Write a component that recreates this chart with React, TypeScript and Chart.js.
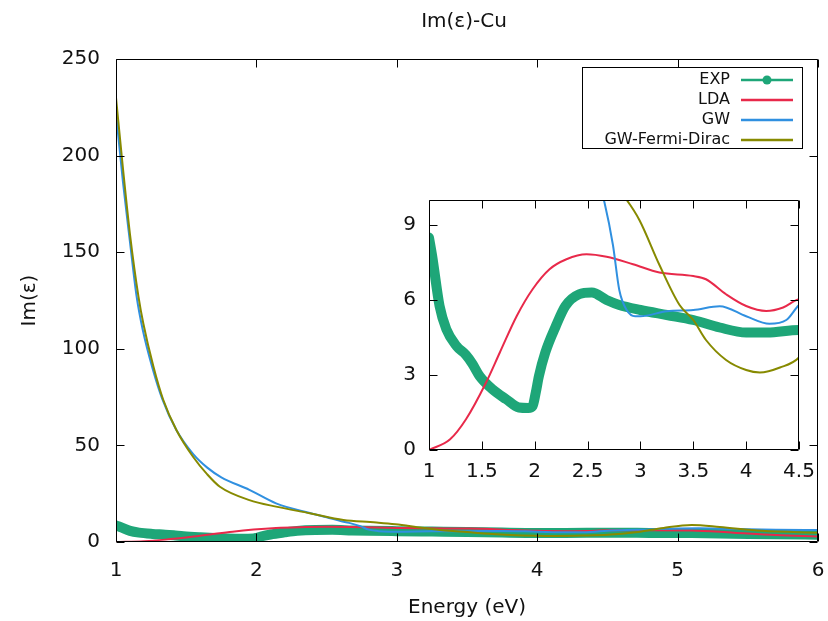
import React, { useEffect, useRef } from "react";
import { Chart, registerables } from "chart.js";

Chart.register(...registerables);

const FONT = "'DejaVu Sans', 'Open Sans', sans-serif";
const TEXT = "#111111";

// ---------- data ----------
const SERIES_NAMES = ["EXP", "LDA", "GW", "GW-Fermi-Dirac"];
const CHART_TITLE = "Im(ε)-Cu";
const X_TITLE = "Energy (eV)";
const Y_TITLE = "Im(ε)";

const EXP_X = [1.0, 1.03, 1.1, 1.164, 1.26, 1.35, 1.41, 1.48, 1.6, 1.73, 1.85, 1.94, 1.98, 2.01, 2.04, 2.1, 2.2, 2.29, 2.42, 2.54, 2.68, 2.8, 3.0, 3.25, 3.5, 3.75, 4.0, 4.2, 4.5, 4.8, 5.1, 5.4, 5.7, 6.0];
const EXP_Y = [8.5, 7.76, 5.76, 4.83, 4.16, 3.8, 3.45, 2.95, 2.43, 2.03, 1.7, 1.68, 1.76, 2.3, 2.96, 3.9, 4.96, 5.76, 6.23, 6.3, 6.0, 5.8, 5.6, 5.4, 5.2, 4.9, 4.7, 4.7, 4.8, 4.7, 4.6, 4.3, 4.0, 3.8];

const LDA_X = [1.0, 1.2, 1.35, 1.54, 1.67, 1.83, 1.98, 2.14, 2.3, 2.49, 2.68, 2.93, 3.18, 3.5, 3.62, 3.81, 4.0, 4.19, 4.35, 4.5, 4.8, 5.1, 5.4, 5.7, 6.0];
const LDA_Y = [0, 0.43, 1.23, 2.7, 3.9, 5.36, 6.43, 7.23, 7.63, 7.83, 7.73, 7.43, 7.1, 6.96, 6.83, 6.23, 5.76, 5.56, 5.7, 6.03, 6.1, 6.0, 4.8, 3.6, 2.9];

const GW_X = [1.0, 1.05, 1.1, 1.147, 1.19, 1.26, 1.33, 1.43, 1.55, 1.65, 1.75, 1.95, 2.14, 2.38, 2.5, 2.6, 2.66, 2.74, 2.8, 2.87, 2.95, 3.0, 3.25, 3.5, 3.75, 4.0, 4.22, 4.38, 4.5, 4.7, 5.0, 5.15, 5.4, 5.7, 6.0];
const GW_Y = [222, 186, 155, 127, 110, 90, 74, 58, 45.5, 38.5, 33.5, 27, 20, 15, 12.8, 10.8, 9.9, 8.2, 6.4, 5.6, 5.35, 5.35, 5.55, 5.6, 5.75, 5.35, 5.05, 5.2, 5.8, 6.3, 7.0, 7.1, 6.7, 6.4, 6.2];

const GWFD_X = [1.0, 1.05, 1.1, 1.16, 1.195, 1.266, 1.337, 1.43, 1.55, 1.65, 1.74, 1.95, 2.14, 2.38, 2.62, 2.81, 2.87, 2.99, 3.18, 3.37, 3.5, 3.62, 3.81, 4.0, 4.13, 4.32, 4.5, 4.7, 4.9, 5.1, 5.3, 5.6, 6.0];
const GWFD_Y = [230, 193, 159, 127, 113, 91, 73.5, 58, 44, 35, 28.6, 21.7, 18.3, 14.9, 11.4, 10.3, 10, 9.2, 7.4, 5.8, 5.2, 4.4, 3.6, 3.2, 3.1, 3.3, 3.7, 5.0, 7.3, 8.8, 7.8, 5.8, 4.8];

const MAIN_X_TICKS = [1, 2, 3, 4, 5, 6];
const MAIN_Y_TICKS = [0, 50, 100, 150, 200, 250];
const INSET_X_TICKS = [1, 1.5, 2, 2.5, 3, 3.5, 4, 4.5];
const INSET_Y_TICKS = [0, 3, 6, 9];

// ---------- styles ----------
const COLORS = ["#1ea678", "#e8294a", "#3090e0", "#878a00"];

const pts = (xs: number[], ys: number[]) => xs.map((x, i) => ({ x, y: ys[i] }));

const makeDatasets = (expWidth: number) => {
  const series = [
    [EXP_X, EXP_Y],
    [LDA_X, LDA_Y],
    [GW_X, GW_Y],
    [GWFD_X, GWFD_Y],
  ];
  return series.map(([xs, ys], i) => ({
    label: SERIES_NAMES[i],
    data: pts(xs, ys),
    borderColor: COLORS[i],
    backgroundColor: COLORS[i],
    borderWidth: i === 0 ? expWidth : 2,
    pointRadius: 0,
    cubicInterpolationMode: "monotone" as const,
    borderCapStyle: "round" as const,
    borderJoinStyle: "round" as const,
    fill: false,
    order: 3 - i,
  }));
};

const frameTicks = (xt: number[], yt: number[], len: number) => ({
  id: "frameTicks",
  afterDatasetsDraw(chart: any) {
    const { ctx, chartArea: a, scales } = chart;
    const L = Math.round(a.left) + 0.5;
    const R = Math.round(a.right) - 0.5;
    const T = Math.round(a.top) + 0.5;
    const B = Math.round(a.bottom) - 0.5;
    ctx.save();
    ctx.strokeStyle = "#000";
    ctx.lineWidth = 1;
    ctx.beginPath();
    ctx.rect(L, T, R - L, B - T);
    xt.forEach((v) => {
      const px = Math.round(scales.x.getPixelForValue(v)) + 0.5;
      ctx.moveTo(px, B);
      ctx.lineTo(px, B - len);
      ctx.moveTo(px, T);
      ctx.lineTo(px, T + len);
    });
    yt.forEach((v) => {
      const py = Math.round(scales.y.getPixelForValue(v)) + 0.5;
      ctx.moveTo(L, py);
      ctx.lineTo(L + len, py);
      ctx.moveTo(R, py);
      ctx.lineTo(R - len, py);
    });
    ctx.stroke();
    ctx.restore();
  },
});

const titleLegend = {
  id: "titleLegend",
  afterDraw(chart: any) {
    const { ctx, chartArea: a } = chart;
    ctx.save();
    ctx.fillStyle = TEXT;
    ctx.font = `20px ${FONT}`;
    ctx.textAlign = "center";
    ctx.textBaseline = "middle";
    ctx.fillText(CHART_TITLE, (a.left + a.right) / 2 - 3, 22);

    // legend box
    const bx = 582, by = 67, bw = 220, bh = 81;
    ctx.fillStyle = "#fff";
    ctx.fillRect(bx, by, bw, bh);
    ctx.strokeStyle = "#000";
    ctx.lineWidth = 1;
    ctx.strokeRect(bx + 0.5, by + 0.5, bw, bh);
    ctx.font = `16px ${FONT}`;
    ctx.textAlign = "right";
    SERIES_NAMES.forEach((name, i) => {
      const y = 80 + 20 * i;
      ctx.fillStyle = TEXT;
      ctx.fillText(name, 730, y);
      ctx.strokeStyle = COLORS[i];
      ctx.lineWidth = 2.5;
      ctx.beginPath();
      ctx.moveTo(741, y);
      ctx.lineTo(793, y);
      ctx.stroke();
      if (i === 0) {
        ctx.fillStyle = COLORS[i];
        ctx.beginPath();
        ctx.arc(767, y, 4.5, 0, Math.PI * 2);
        ctx.fill();
      }
    });
    ctx.restore();
  },
};

const axisOpts = (
  min: number,
  max: number,
  ticks: number[],
  fit: (s: any) => void,
  pad: number,
  title?: { text: string; padding: any }
) => ({
  type: "linear" as const,
  min,
  max,
  afterBuildTicks: (s: any) => {
    s.ticks = ticks.map((v) => ({ value: v }));
  },
  afterFit: (s: any) => {
    fit(s);
    s.paddingLeft = 0;
    s.paddingRight = 0;
    s.paddingTop = 0;
    s.paddingBottom = 0;
  },
  grid: { display: false, drawTicks: false },
  border: { display: false },
  ticks: {
    font: { family: FONT, size: 20 },
    color: TEXT,
    padding: pad,
    maxRotation: 0,
    autoSkip: false,
    callback: (v: any) => String(v),
  },
  title: title
    ? {
        display: true,
        text: title.text,
        font: { family: FONT, size: 20 },
        color: TEXT,
        padding: title.padding,
      }
    : { display: false },
});

export default function App() {
  const mainRef = useRef<HTMLCanvasElement>(null);
  const insetRef = useRef<HTMLCanvasElement>(null);

  useEffect(() => {
    const main = new Chart(mainRef.current!, {
      type: "line",
      data: { datasets: makeDatasets(10) as any },
      options: {
        animation: false,
        responsive: false,
        devicePixelRatio: 1,
        layout: { padding: { left: 0, right: 10, top: 59, bottom: 0 } },
        plugins: { legend: { display: false }, title: { display: false }, tooltip: { enabled: false } },
        scales: {
          x: axisOpts(1, 6, MAIN_X_TICKS, (s) => { s.height = 79; }, 17, { text: X_TITLE, padding: { top: 0, bottom: 1 } }),
          y: axisOpts(0, 250, MAIN_Y_TICKS, (s) => { s.width = 116; }, 16, { text: Y_TITLE, padding: { top: 18, bottom: 0 } }),
        },
      } as any,
      plugins: [frameTicks(MAIN_X_TICKS, MAIN_Y_TICKS, 8), titleLegend],
    });

    const inset = new Chart(insetRef.current!, {
      type: "line",
      data: { datasets: makeDatasets(10) as any },
      options: {
        animation: false,
        responsive: false,
        devicePixelRatio: 1,
        layout: { padding: { left: 0, right: 21, top: 15, bottom: 0 } },
        plugins: { legend: { display: false }, title: { display: false }, tooltip: { enabled: false } },
        scales: {
          x: axisOpts(1, 4.5, INSET_X_TICKS, (s) => { s.height = 40; }, 10),
          y: axisOpts(0, 10, INSET_Y_TICKS, (s) => { s.width = 49; }, 13),
        },
      } as any,
      plugins: [frameTicks(INSET_X_TICKS, INSET_Y_TICKS, 8)],
    });

    return () => {
      main.destroy();
      inset.destroy();
    };
  }, []);

  return (
    <div style={{ position: "absolute", left: 0, top: 0, width: 828, height: 621, background: "#fff" }}>
      <canvas ref={mainRef} width={828} height={621} style={{ position: "absolute", left: 0, top: 0, width: 828, height: 621 }} />
      <canvas ref={insetRef} width={440} height={305} style={{ position: "absolute", left: 380, top: 185, width: 440, height: 305 }} />
    </div>
  );
}
